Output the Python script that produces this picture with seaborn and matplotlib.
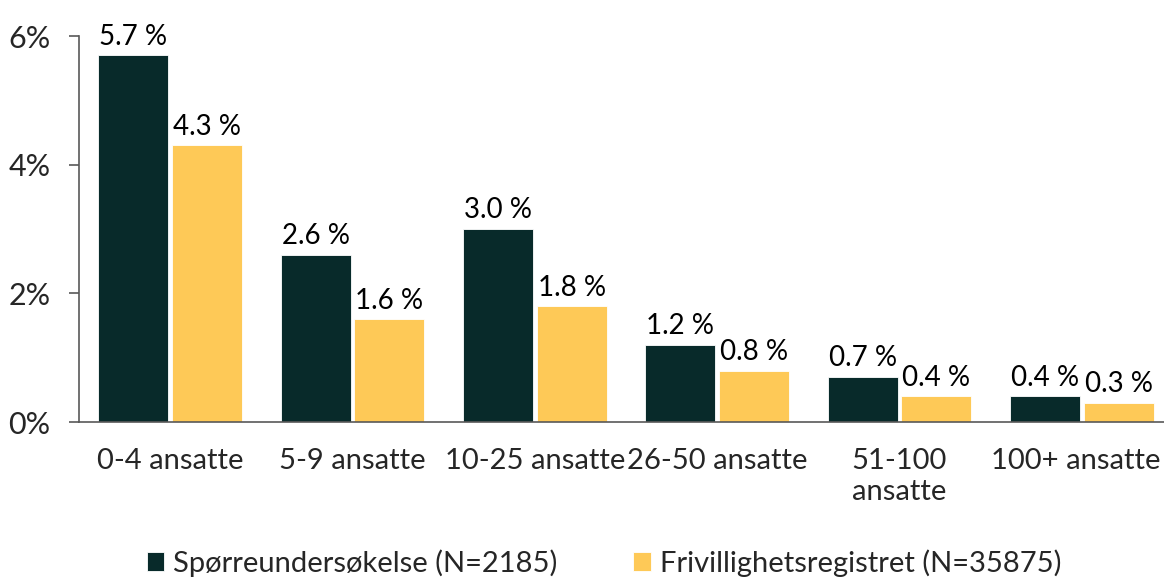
import pandas as pd
import numpy as np
import matplotlib.pyplot as plt
import matplotlib.transforms as mtransforms
import seaborn as sns

categories = ['0-4 ansatte', '5-9 ansatte', '10-25 ansatte', '26-50 ansatte', '51-100\nansatte', '100+ ansatte']
survey = [5.7, 2.6, 3.0, 1.2, 0.7, 0.4]
registry = [4.3, 1.6, 1.8, 0.8, 0.4, 0.3]
series_names = ['Spørreundersøkelse (N=2185)', 'Frivillighetsregistret (N=35875)']
colors = ['#082A2A', '#FEC957']

df = pd.DataFrame({
    'kategori': categories * 2,
    'andel': survey + registry,
    'serie': [series_names[0]] * len(categories) + [series_names[1]] * len(categories),
})

sns.set_style('white')
plt.rcParams['font.family'] = ['Lato', 'DejaVu Sans']

W, H = 1164, 579
fig = plt.figure(figsize=(W / 100, H / 100), dpi=100)
# axes runs a bit past the right edge, like the reference
ax = fig.add_axes([79 / W, 1 - 422 / H, 1094 / W, (422 - 36) / H])

sns.barplot(data=df, x='kategori', y='andel', hue='serie', palette=colors,
            saturation=1, width=0.81, gap=0.05, edgecolor='white', linewidth=0.6, ax=ax)

for cont in ax.containers:
    ax.bar_label(cont, fmt='{:.1f} %', padding=4, fontsize=20, color='black')

ax.set_ylim(0, 6)
ax.set_xlim(-0.5, 5.5)
ax.set_yticks([0, 2, 4, 6])
ax.set_yticklabels(['0%', '2%', '4%', '6%'])
ax.set_xlabel('')
ax.set_ylabel('')

axis_grey = '#595959'
# group separators as minor ticks on the x axis
ax.set_xticks(np.arange(-0.5, 5.6, 1.0), minor=True)
ax.tick_params(axis='x', which='major', length=0, pad=19, labelsize=21)
ax.tick_params(axis='x', which='minor', length=7.5, width=1.2, color=axis_grey, direction='out')
ax.tick_params(axis='y', length=7.5, width=1.2, color=axis_grey, labelsize=22, pad=13, left=True)

# nudge the last label so it stays inside the figure
last = ax.get_xticklabels()[-1]
last.set_transform(last.get_transform() + mtransforms.ScaledTranslation(-6 / 100, 0, fig.dpi_scale_trans))

for side in ['top', 'right']:
    ax.spines[side].set_visible(False)
for side in ['left', 'bottom']:
    ax.spines[side].set_color(axis_grey)
    ax.spines[side].set_linewidth(1.2)

handles, labels = ax.get_legend_handles_labels()
ax.get_legend().remove()
fig.legend(handles, labels, loc='center', bbox_to_anchor=(604 / W, 1 - 563 / H), ncol=2,
           frameon=False, fontsize=21, handlelength=0.6, handleheight=0.6,
           handletextpad=0.3, columnspacing=2.6)

plt.savefig('out.png', dpi=100)
plt.close()
